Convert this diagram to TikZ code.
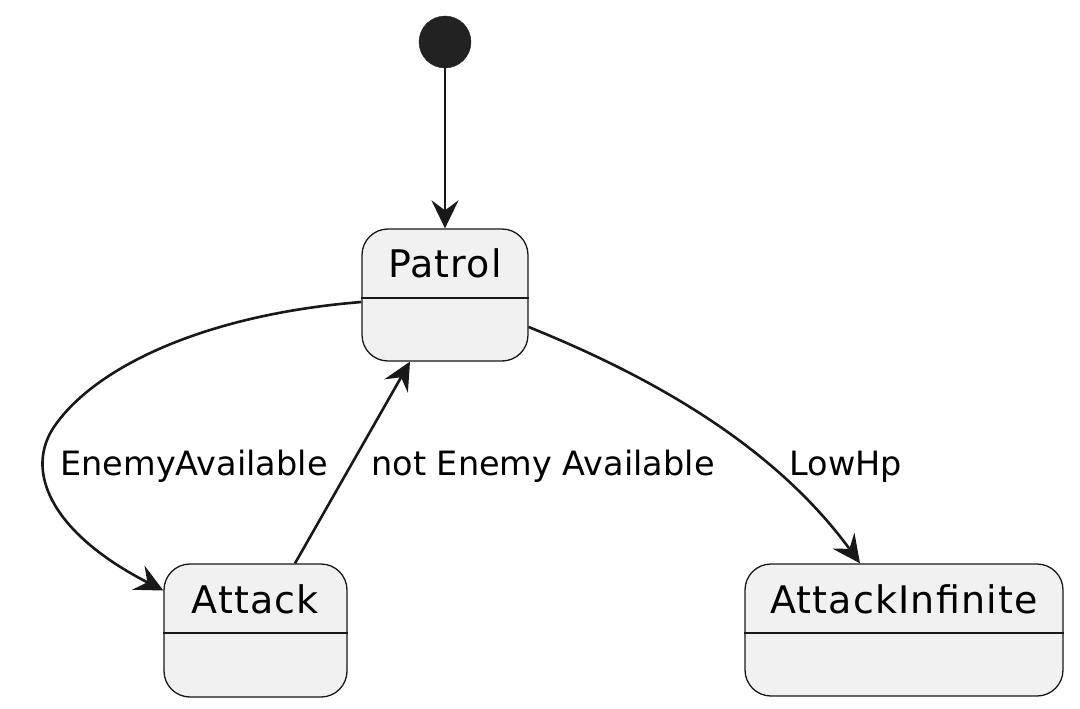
\documentclass[tikz,border=0pt]{standalone}
\usepackage{fontspec}
\setmainfont{DejaVu Sans}
\newfontfamily\statefont[LetterSpace=3]{DejaVu Sans}
\usetikzlibrary{arrows.meta}
\definecolor{boxfill}{HTML}{F1F1F1}
\definecolor{boxline}{HTML}{181818}
\definecolor{initfill}{HTML}{222222}
\begin{document}
\begin{tikzpicture}[x=1pt,y=-1pt,
  statebox/.style={draw=boxline, fill=boxfill, line width=1.3pt, rounded corners=26pt, inner sep=0pt},
  statename/.style={anchor=base, inner sep=0pt, font=\statefont\fontsize{38}{40}\selectfont},
  divider/.style={draw=boxline, line width=1.3pt},
  trans/.style={draw=boxline, line width=2.6pt, -{Stealth[length=28pt,width=27pt,inset=10pt]}},
  lbl/.style={anchor=base, inner sep=0pt, font=\fontsize{33.5}{36}\selectfont}]
\useasboundingbox (0,0) rectangle (1080,709);
% initial state
\node[circle, fill=initfill, draw=initfill, minimum size=52pt, inner sep=0pt] (init) at (445,42) {};
% states
\node[statebox, minimum width=166pt, minimum height=132pt] (patrol) at (445,295) {};
\node[statename] (patroltitle) at (445,277) {Patrol};
\draw[divider] (patrol.west |- 0,298) -- (patrol.east |- 0,298);
\node[statebox, minimum width=183pt, minimum height=133pt] (attack) at (255.5,630.5) {};
\node[statename] (attacktitle) at (255.5,613) {Attack};
\draw[divider] (attack.west |- 0,633) -- (attack.east |- 0,633);
\node[statebox, minimum width=318pt, minimum height=132pt] (attackinf) at (904,630) {};
\node[statename] (attackinftitle) at (904,613) {AttackInfinite};
\draw[divider] (attackinf.west |- 0,633) -- (attackinf.east |- 0,633);
% transitions
\draw[trans] (init) -- (patrol.north);
\draw[trans] ([yshift=-7pt]patrol.west) .. controls (200,315) and (90,370) .. (52,430)
  .. controls (25,475) and (55,535) .. ([yshift=40pt]attack.west);
\draw[trans] ([xshift=39.5pt]attack.north) -- ([xshift=-35pt]patrol.south);
\draw[trans] ([yshift=-32pt]patrol.east) .. controls (640,372) and (770,440) .. ([xshift=-44pt]attackinf.north);
% labels
\node[lbl] (l1) at (194,475) {EnemyAvailable};
\node[lbl] (l2) at (543,475) {not Enemy Available};
\node[lbl] (l3) at (846,475) {LowHp};
\end{tikzpicture}
\end{document}
